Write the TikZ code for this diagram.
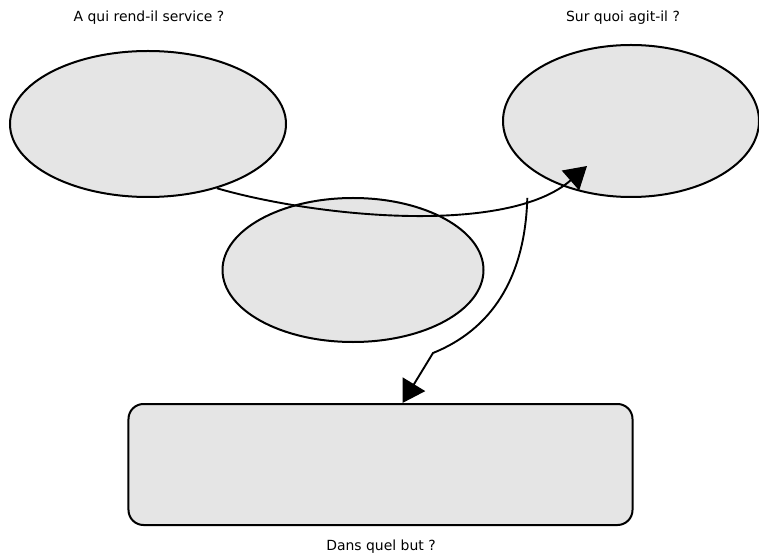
\documentclass[tikz,border=0pt]{standalone}
\usepackage{fontspec}
\setmainfont{DejaVu Sans}
\usetikzlibrary{shapes.geometric,arrows.meta}

\begin{document}
\begin{tikzpicture}[x=1bp,y=-1bp,
  oval/.style={draw,ellipse,fill=gray!20,line width=2bp,inner sep=0pt},
  boite/.style={draw,rectangle,rounded corners=15bp,fill=gray!20,line width=2bp,
    minimum width=504bp,minimum height=121bp},
  fl/.style={line width=1.9bp,-{Triangle[length=22bp,width=26bp]}},
  txt/.style={font=\fontsize{14}{16}\selectfont}]
\useasboundingbox (0,0) rectangle (759,554);

% questions
\node[txt] at (149,18) (q1) {A qui rend-il service ?};
\node[txt] at (623,18) (q2) {Sur quoi agit-il ?};
\node[txt] at (381,547) (q3) {Dans quel but ?};

% the three ovals and the box
\node[oval,minimum width=276bp,minimum height=146bp] at (148,124) (cli) {};
\node[oval,minimum width=256bp,minimum height=152bp] at (631,121) (mat) {};
\node[oval,minimum width=261bp,minimum height=144bp] at (353,270) (prod) {};
\node[boite] at (380.5,464.5) (but) {};

% horns
\coordinate (tipa) at (587,166);
\draw[fl] (cli.-43) .. controls (316,217) and (507,236) .. (tipa) coordinate[pos=0.8] (j);
\draw[fl] (j) .. controls (525,280) and (490,330) .. (433,353) -- ([xshift=22bp]but.north);

\end{tikzpicture}
\end{document}
